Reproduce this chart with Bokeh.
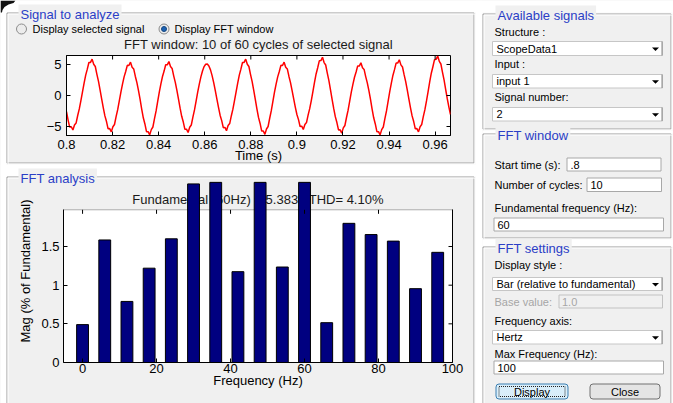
import numpy as np
from bokeh.embed import file_html
from bokeh.layouts import column
from bokeh.models import (BoxAnnotation, FixedTicker, Label, LinearAxis,
                          PolyAnnotation, Range1d)
from bokeh.plotting import figure
from bokeh.resources import INLINE

# ---------------------------------------------------------------- data
# Selected signal: 10 cycles of the noisy 60 Hz waveform starting at 0.8 s,
# 24 samples per cycle (one row per cycle).
start_time = 0.8
fundamental_hz = 60
window_cycles = 10
sample_step = 1 / 1440
signal_values = [
    -2.60, -3.97, -5.09, -5.04, -5.57, -4.75, -4.44, -3.23, -2.16, -0.83, 0.59, 2.00,
    3.29, 4.25, 5.32, 5.33, 5.87, 5.03, 4.68, 3.42, 2.28, 0.87, -0.59, -2.00,
    -3.29, -4.20, -5.37, -5.33, -5.87, -5.03, -4.68, -3.42, -2.28, -0.87, 0.54, 1.83,
    3.00, 3.86, 4.86, 4.84, 5.37, 4.56, 4.28, 3.11, 2.08, 0.80, -0.64, -2.18,
    -3.59, -4.59, -5.83, -5.83, -6.35, -5.50, -5.08, -3.74, -2.48, -0.95, 0.55, 1.86,
    3.06, 3.94, 4.95, 4.94, 5.47, 4.66, 4.36, 3.17, 2.12, 0.81, -0.60, -2.04,
    -3.35, -4.28, -5.46, -5.43, -5.97, -5.12, -4.76, -3.49, -2.32, -0.89, 0.54, 1.83,
    3.00, 3.96, 4.66, 5.04, 5.07, 4.76, 4.13, 3.21, 2.08, 0.80, -0.57, -1.93,
    -3.18, -4.05, -5.19, -5.14, -5.67, -4.84, -4.52, -3.30, -2.20, -0.84, 0.59, 2.00,
    3.29, 4.25, 5.32, 5.33, 5.87, 5.03, 4.68, 3.42, 2.28, 0.87, -0.63, -2.15,
    -3.53, -4.51, -5.73, -5.73, -6.27, -5.40, -5.00, -3.67, -2.44, -0.94, 0.54, 1.83,
    3.00, 3.86, 4.86, 4.84, 5.37, 4.56, 4.28, 3.11, 2.08, 0.80, -0.55, -1.86,
    -3.06, -3.89, -5.00, -4.94, -5.47, -4.66, -4.36, -3.17, -2.12, -0.81, 0.62, 2.11,
    3.47, 4.48, 5.59, 5.63, 6.17, 5.31, 4.92, 3.61, 2.40, 0.92, -0.61, -2.08,
    -3.41, -4.36, -5.55, -5.53, -6.07, -5.22, -4.84, -3.55, -2.36, -0.90, 0.53, 1.79,
    2.94, 3.79, 4.77, 4.74, 5.28, 4.47, 4.20, 3.05, 2.04, 0.78, -0.64, -2.18,
    -3.59, -4.59, -5.83, -5.83, -6.35, -5.50, -5.08, -3.74, -2.48, -0.95, 0.58, 1.97,
    3.23, 4.17, 5.23, 5.23, 5.77, 4.94, 4.60, 3.36, 2.24, 0.86, -0.59, -2.00,
    -3.29, -4.20, -5.37, -5.33, -5.87, -5.03, -4.68, -3.42, -2.28, -0.87, 0.64, 2.18,
    3.59, 4.64, 5.78, 5.83, 6.37, 5.50, 5.08, 3.74, 2.48, 0.95, -0.55, -1.86,
    -3.06,
]
time_ticks = [0.8, 0.82, 0.84, 0.86, 0.88, 0.9, 0.92, 0.94, 0.96]
time_tick_labels = ["0.8", "0.82", "0.84", "0.86", "0.88", "0.9", "0.92", "0.94", "0.96"]
signal_ticks = [-5, 0, 5]

# Harmonic spectrum (6 Hz resolution), magnitude in % of fundamental
harmonic_freqs = [0, 6, 12, 18, 24, 30, 36, 42, 48, 54, 60, 66, 72, 78, 84, 90, 96]
harmonic_mags = [0.49, 1.585, 0.79, 1.22, 1.60, 2.31, 2.33, 1.175, 2.33, 1.235,
                 2.33, 0.515, 1.80, 1.655, 1.57, 0.955, 1.425]
freq_ticks = [0, 20, 40, 60, 80, 100]
mag_ticks = [0, 0.5, 1, 1.5]
mag_tick_labels = ["0", "0.5", "1", "1.5"]

signal_title = "FFT window: 10 of 60 cycles of selected signal"
spectrum_title = "Fundamental (60Hz) = 5.383 , THD= 4.10%"

# ---------------------------------------------------------------- style
FONT = "Liberation Sans"
PANEL = "#f0f0f0"
TITLE_BLUE = "#2b3ec6"
W, H = 673, 403


def style_axis(ax):
    ax.major_tick_in = 4
    ax.major_tick_out = 0
    ax.minor_tick_line_color = None
    ax.axis_line_color = "black"
    ax.major_tick_line_color = "black"
    ax.major_label_text_font = FONT
    ax.major_label_text_color = "black"
    ax.major_label_text_font_size = "13px"
    ax.axis_label_text_font = FONT
    ax.axis_label_text_font_size = "13px"
    ax.axis_label_text_font_style = "normal"
    ax.axis_label_text_color = "black"


# ---------------------------------------------------------------- dialog window
# Window background, group boxes and controls, in window pixels (y downwards).
win = figure(width=W, height=H, title=None, output_backend="svg", toolbar_location=None,
             x_range=Range1d(0, W), y_range=Range1d(H, 0),
             x_axis_type=None, y_axis_type=None, min_border=0, frame_align=False)
win.outline_line_color = None
win.background_fill_color = PANEL
win.border_fill_color = PANEL


def box(l, t, r, b, fill=None, line=None, lw=1, dash="solid", radius=0):
    win.add_layout(BoxAnnotation(
        left=l, right=r, top=t, bottom=b,
        fill_color=fill, fill_alpha=1.0 if fill else 0.0,
        line_color=line, line_alpha=1.0 if line else 0.0,
        line_width=lw, line_dash=dash, border_radius=radius))


def text(x, y, s, size="11px", color="black", align="left", bg=None, pad=0):
    win.add_layout(Label(
        x=x, y=y, text=s, text_font=FONT, text_font_size=size,
        text_color=color, text_align=align, text_baseline="middle",
        background_fill_color=bg, background_fill_alpha=1.0 if bg else 0.0,
        padding=pad))


def arrow(cx, cy):
    win.add_layout(PolyAnnotation(
        xs=[cx - 3.5, cx + 3.5, cx], ys=[cy - 1.5, cy - 1.5, cy + 2],
        fill_color="black", fill_alpha=1.0, line_color=None))


# white window background between the group boxes
for l, t, r, b in [(0, 0, 673, 12), (0, 0, 6, 403), (475, 0, 482, 403),
                   (0, 164, 482, 176), (482, 12, 673, 13), (482, 130, 673, 133),
                   (482, 239, 673, 246), (672, 0, 673, 403)]:
    box(l, t, r, b, fill="white")

# etched group boxes with their titles
panels = [
    (6, 12, 475, 164, "Signal to analyze", 18),
    (6, 176, 475, 420, "FFT analysis", 18),
    (482, 13, 672, 130, "Available signals", 495),
    (482, 133, 672, 239, "FFT window", 495),
    (482, 246, 672, 420, "FFT settings", 495),
]
for l, t, r, b, title, tx in panels:
    box(l + 0.5, t + 0.5, r - 1.5, b - 1.5, line="#a0a0a0")
    box(l + 1.5, t + 1.5, r - 0.5, b - 0.5, line="white")
for l, t, r, b, title, tx in panels:
    text(tx, t + 1.5, title, size="13px", color=TITLE_BLUE, bg=PANEL, pad=2)

# radio buttons
box(16, 23.5, 26, 33.5, fill="#ececec", line="#8c8c8c", radius=5)
box(158.5, 23.5, 168.5, 33.5, fill="#ececec", line="#8c8c8c", radius=5)
box(161, 26, 166, 31, fill="#1d63b5", line="#16467e", radius=3)
text(32, 28.5, "Display selected signal")
text(174, 28.5, "Display FFT window")

# title of the time-domain axes
text(258, 44, signal_title, size="13px", color="#1a1a1a", align="center")

# Available signals
text(494, 31.5, "Structure :")
text(494, 63.5, "Input :")
text(494, 96, "Signal number:")
for t, b, s in [(41, 55, "ScopeData1"), (74, 87.5, "input 1"), (107, 120.5, "2"),
                (277, 290, "Bar (relative to fundamental)"), (330, 343.5, "Hertz")]:
    box(492, t, 662, b, fill="white", line="#c6c6c6")
    box(661, t, 662, b, fill="#8a8a8a")
    text(496, (t + b) / 2, s)
    arrow(655, (t + b) / 2 + 0.5)

# FFT window
text(494, 164.5, "Start time (s):")
text(494, 184.5, "Number of cycles:")
text(494, 207, "Fundamental frequency (Hz):")
for l, t, r, b, s in [(566.5, 157.5, 660.5, 170.5, ".8"), (586.5, 177.5, 661, 191, "10"),
                      (493.5, 217.5, 663, 230.5, "60"), (493.5, 360.5, 663, 373.5, "100")]:
    box(l, t, r, b, fill="white", line="#a8a8a8")
    text(l + 3.5, (t + b) / 2, s)

# FFT settings
text(494, 264, "Display style :")
text(494, 301, "Base value:", color="#a6a6a6")
box(558.5, 294.5, 662, 307.5, fill=PANEL, line="#c2c2c2")
text(561.5, 301, "1.0", color="#a6a6a6")
text(494, 320, "Frequency axis:")
text(494, 353, "Max Frequency (Hz):")

# push buttons
box(495.5, 383.5, 567.5, 398.5, fill="#d9eefa", line="#3c7fb1", radius=3)
box(498.5, 386, 564.5, 396, line="#222222", dash="1 1")
text(531.5, 391, "Display", align="center")
box(589.5, 383.5, 659.5, 398.5, fill="#e4e4e4", line="#707070", radius=3)
text(624.5, 391, "Close", align="center")

# dark corner mark at the top-left of the window
win.add_layout(PolyAnnotation(
    xs=[0, 15, 13, 8, 4, 2, 1.5, 0], ys=[0, 0, 2.5, 4, 6.5, 9.5, 12, 12],
    fill_color="#111111", fill_alpha=1.0, line_color=None))

# ---------------------------------------------------------------- time plot
# Transparent-bordered canvas laid over the window: rows 36..169, cols 0..477.
A_Y0, A_Y1, A_W = 36, 170, 478
A_L, A_R, A_T, A_B = 66, 450, 55, 135          # frame edges in window pixels
times = start_time + sample_step * np.arange(len(signal_values))
window_end = start_time + window_cycles / fundamental_hz
sig_lo, sig_hi = -6.45, 6.45

pA = figure(width=A_W, height=A_Y1 - A_Y0, title=None, output_backend="svg",
            toolbar_location=None, frame_align=False,
            x_range=Range1d(start_time, window_end), y_range=Range1d(sig_lo, sig_hi),
            x_axis_type=None, y_axis_type=None,
            min_border_left=A_L, min_border_right=A_W - A_R,
            min_border_top=A_T - A_Y0, min_border_bottom=A_Y1 - A_B,
            margin=(A_Y0 - H, 0, 0, 0))
pA.background_fill_color = "white"
pA.border_fill_alpha = 0
pA.outline_line_color = "black"

pA.line(times, signal_values, line_color="#ff0000", line_width=1.5)

# inward ticks on the top and right edges of the box
tx_len = 4 * (window_end - start_time) / (A_R - A_L)
ty_len = 4 * (sig_hi - sig_lo) / (A_B - A_T)
pA.segment(x0=time_ticks, x1=time_ticks, y0=[sig_hi] * len(time_ticks),
           y1=[sig_hi - ty_len] * len(time_ticks), line_color="black", line_width=1)
pA.segment(x0=[window_end] * len(signal_ticks), x1=[window_end - tx_len] * len(signal_ticks),
           y0=signal_ticks, y1=signal_ticks, line_color="black", line_width=1)

axA_x = LinearAxis(ticker=FixedTicker(ticks=time_ticks),
                   major_label_overrides=dict(zip(time_ticks, time_tick_labels)),
                   axis_label="Time (s)")
style_axis(axA_x)
axA_x.major_label_standoff = 4
axA_x.axis_label_standoff = -4
pA.add_layout(axA_x, "below")

axA_y = LinearAxis(ticker=FixedTicker(ticks=signal_ticks))
style_axis(axA_y)
axA_y.major_label_standoff = 5
pA.add_layout(axA_y, "left")

# ---------------------------------------------------------------- spectrum
B_Y0, B_W = 170, 478
B_L, B_R, B_T, B_B = 63, 452, 179, 362          # frame edges in window pixels
freq_start, freq_end = -5.15, 100
mag_box_top = 1.975
mag_view_top = 2.367

pB = figure(width=B_W, height=H - B_Y0, title=None, output_backend="svg",
            toolbar_location=None, frame_align=False,
            x_range=Range1d(freq_start, freq_end), y_range=Range1d(0, mag_view_top),
            x_axis_type=None, y_axis_type=None,
            min_border_left=B_L, min_border_right=B_W - B_R,
            min_border_top=B_T - B_Y0, min_border_bottom=H - B_B)
pB.background_fill_alpha = 0
pB.border_fill_alpha = 0
pB.outline_line_color = None

# axes box (white) and the spectrum title behind the bars
pB.add_layout(BoxAnnotation(left=freq_start, right=freq_end, bottom=0, top=mag_box_top,
                            fill_color="white", fill_alpha=1.0, line_color="black",
                            line_width=1, level="underlay"))
pB.add_layout(Label(x=(freq_start + freq_end) / 2,
                    y=mag_view_top * (B_B - 198.5) / (B_B - B_T),
                    text=spectrum_title, text_font=FONT, text_font_size="13px",
                    text_color="#1a1a1a", text_align="center", text_baseline="middle",
                    level="underlay"))

pB.vbar(x=harmonic_freqs, top=harmonic_mags, width=3.2, bottom=0,
        fill_color="#000080", line_color="black", line_width=1)

# inward ticks along the top and right edges of the axes box
fx_len = 4 * (freq_end - freq_start) / (B_R - B_L)
my_len = 4 * mag_view_top / (B_B - B_T)
pB.segment(x0=freq_ticks, x1=freq_ticks, y0=[mag_box_top] * len(freq_ticks),
           y1=[mag_box_top - my_len] * len(freq_ticks), line_color="black", line_width=1)
pB.segment(x0=[freq_end] * len(mag_ticks), x1=[freq_end - fx_len] * len(mag_ticks),
           y0=mag_ticks, y1=mag_ticks, line_color="black", line_width=1)

axB_x = LinearAxis(ticker=FixedTicker(ticks=freq_ticks), axis_label="Frequency (Hz)")
style_axis(axB_x)
axB_x.major_label_standoff = 1
axB_x.axis_label_standoff = -3
pB.add_layout(axB_x, "below")

axB_y = LinearAxis(ticker=FixedTicker(ticks=mag_ticks),
                   major_label_overrides=dict(zip(mag_ticks, mag_tick_labels)),
                   axis_label="Mag (% of Fundamental)", bounds=(0, mag_box_top))
style_axis(axB_y)
axB_y.major_label_standoff = 4
axB_y.axis_label_standoff = 5
pB.add_layout(axB_y, "left")

axB_r = LinearAxis(ticker=FixedTicker(ticks=[]), bounds=(0, mag_box_top))
style_axis(axB_r)
pB.add_layout(axB_r, "right")

layout = column(win, pA, pB, spacing=0)
with open("out.html", "w") as f:
    f.write(file_html(layout, INLINE))
